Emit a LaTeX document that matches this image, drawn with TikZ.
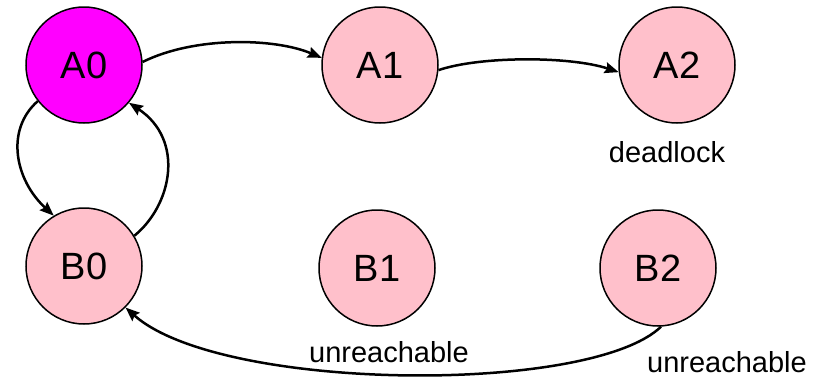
\documentclass[tikz,border=0pt]{standalone}
\usepackage{fontspec}
\setmainfont{Liberation Sans}
\usetikzlibrary{arrows.meta}
\definecolor{statepink}{HTML}{FFC0CB}
\definecolor{statemag}{HTML}{FF00FF}
\tikzset{
  state/.style={circle, draw=black, line width=1.5pt, fill=statepink, minimum size=116pt, inner sep=0pt, font=\fontsize{38}{40}\selectfont},
  initstate/.style={state, fill=statemag},
  note/.style={inner sep=0pt, font=\fontsize{29}{31}\selectfont},
  edge/.style={line width=2.5pt, -{Stealth[length=14pt,width=11pt,inset=2pt]}}
}
\begin{document}
\begin{tikzpicture}[x=1pt,y=-1pt]
\useasboundingbox (0,0) rectangle (831,378);
\node[initstate] (A0) at (84,65) {A0};
\node[state] (A1) at (380,65) {A1};
\node[state] (A2) at (677,65) {A2};
\node[state] (B0) at (84,266) {B0};
\node[state] (B1) at (377,268) {B1};
\node[state] (B2) at (658,268) {B2};
\node[note] (lA2) at (667,152) {deadlock};
\node[note] (lB1) at (389,352) {unreachable};
\node[note] (lB2) at (727,362) {unreachable};
\draw[edge] (A0.3) .. controls (195,36) and (275,38) .. (A1.173);
\draw[edge] (A1.-5) .. controls (480,56) and (570,56) .. (A2.187);
\draw[edge] (A0.218) .. controls (5,130) and (15,180) .. (B0.121);
\draw[edge] (B0.31) .. controls (172,205) and (185,140) .. (A0.-40);
\draw[edge] (B2.-87) .. controls (590,395) and (220,392) .. (B0.-45);
\end{tikzpicture}
\end{document}
